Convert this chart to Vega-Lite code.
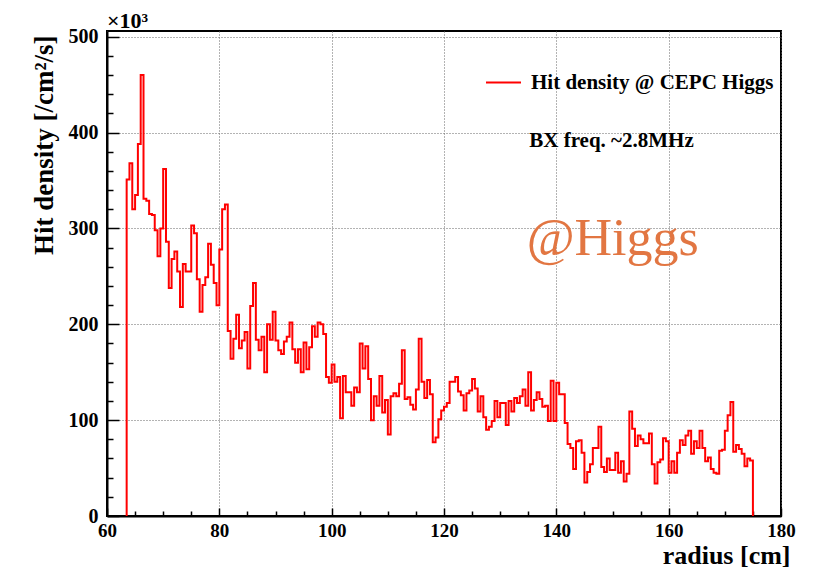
{
"$schema": "https://vega.github.io/schema/vega-lite/v6.json",
"width": 674, "height": 485,
"autosize": {"type": "none"},
"padding": {"left": 107, "top": 31, "right": 45, "bottom": 53},
"background": "white",
"config": {
 "view": {"stroke": "black", "strokeWidth": 2},
 "font": "Liberation Serif",
 "axis": {"labelFont": "Liberation Serif", "labelFontWeight": "bold", "labelFontSize": 20, "labelColor": "black", "titleFont": "Liberation Serif", "titleFontWeight": "bold", "titleFontSize": 27, "titleColor": "black", "domainColor": "black", "domainWidth": 2, "tickColor": "black", "tickWidth": 1.5, "gridColor": "#666666", "gridDash": [1, 2], "gridWidth": 1}
},
"datasets": {"hist": [
{"r":63.5,"h":0},
{"r":63.5,"h":351},{"r":64,"h":368},{"r":64.5,"h":320},{"r":65,"h":335},{"r":65.5,"h":388},{"r":66,"h":460},{"r":66.5,"h":331},{"r":67,"h":329},{"r":67.5,"h":315},{"r":68,"h":314},
{"r":68.5,"h":298},{"r":69,"h":271},{"r":69.5,"h":300},{"r":70,"h":362},{"r":70.5,"h":286},{"r":71,"h":238},{"r":71.5,"h":268},{"r":72,"h":276},{"r":72.5,"h":255},{"r":73,"h":218},
{"r":73.5,"h":263},{"r":74,"h":255},{"r":74.5,"h":255},{"r":75,"h":303},{"r":75.5,"h":295},{"r":76,"h":247},{"r":76.5,"h":213},{"r":77,"h":241},{"r":77.5,"h":249},{"r":78,"h":284},
{"r":78.5,"h":262},{"r":79,"h":243},{"r":79.5,"h":220},{"r":80,"h":278},{"r":80.5,"h":320},{"r":81,"h":325},{"r":81.5,"h":193},{"r":82,"h":164},{"r":82.5,"h":185},{"r":83,"h":210},
{"r":83.5,"h":175},{"r":84,"h":183},{"r":84.5,"h":192},{"r":85,"h":154},{"r":85.5,"h":219},{"r":86,"h":243},{"r":86.5,"h":184},{"r":87,"h":173},{"r":87.5,"h":187},{"r":88,"h":150},
{"r":88.5,"h":200},{"r":89,"h":184},{"r":89.5,"h":213},{"r":90,"h":183},{"r":90.5,"h":173},{"r":91,"h":169},{"r":91.5,"h":182},{"r":92,"h":187},{"r":92.5,"h":202},{"r":93,"h":174},
{"r":93.5,"h":160},{"r":94,"h":174},{"r":94.5,"h":150},{"r":95,"h":181},{"r":95.5,"h":153},{"r":96,"h":176},{"r":96.5,"h":198},{"r":97,"h":187},{"r":97.5,"h":202},{"r":98,"h":200},
{"r":98.5,"h":190},{"r":99,"h":145},{"r":99.5,"h":139},{"r":100,"h":158},{"r":100.5,"h":140},{"r":101,"h":145},{"r":101.5,"h":102},{"r":102,"h":146},{"r":102.5,"h":129},{"r":103,"h":129},
{"r":103.5,"h":115},{"r":104,"h":134},{"r":104.5,"h":129},{"r":105,"h":180},{"r":105.5,"h":154},{"r":106,"h":177},{"r":106.5,"h":143},{"r":107,"h":100},{"r":107.5,"h":125},{"r":108,"h":115},
{"r":108.5,"h":146},{"r":109,"h":108},{"r":109.5,"h":121},{"r":110,"h":85},{"r":110.5,"h":125},{"r":111,"h":128},{"r":111.5,"h":125},{"r":112,"h":138},{"r":112.5,"h":173},{"r":113,"h":122},
{"r":113.5,"h":124},{"r":114,"h":116},{"r":114.5,"h":111},{"r":115,"h":132},{"r":115.5,"h":185},{"r":116,"h":140},{"r":116.5,"h":123},{"r":117,"h":142},{"r":117.5,"h":127},{"r":118,"h":77},
{"r":118.5,"h":82},{"r":119,"h":101},{"r":119.5,"h":110},{"r":120,"h":114},{"r":120.5,"h":118},{"r":121,"h":140},{"r":121.5,"h":140},{"r":122,"h":145},{"r":122.5,"h":130},{"r":123,"h":126},
{"r":123.5,"h":110},{"r":124,"h":128},{"r":124.5,"h":131},{"r":125,"h":143},{"r":125.5,"h":133},{"r":126,"h":109},{"r":126.5,"h":125},{"r":127,"h":103},{"r":127.5,"h":90},{"r":128,"h":93},
{"r":128.5,"h":99},{"r":129,"h":120},{"r":129.5,"h":103},{"r":130,"h":118},{"r":130.5,"h":118},{"r":131,"h":95},{"r":131.5,"h":120},{"r":132,"h":109},{"r":132.5,"h":123},{"r":133,"h":118},
{"r":133.5,"h":125},{"r":134,"h":132},{"r":134.5,"h":115},{"r":135,"h":150},{"r":135.5,"h":110},{"r":136,"h":121},{"r":136.5,"h":129},{"r":137,"h":122},{"r":137.5,"h":114},{"r":138,"h":115},
{"r":138.5,"h":99},{"r":139,"h":141},{"r":139.5,"h":99},{"r":140,"h":139},{"r":140.5,"h":127},{"r":141,"h":127},{"r":141.5,"h":97},{"r":142,"h":75},{"r":142.5,"h":71},{"r":143,"h":49},
{"r":143.5,"h":78},{"r":144,"h":79},{"r":144.5,"h":66},{"r":145,"h":35},{"r":145.5,"h":46},{"r":146,"h":54},{"r":146.5,"h":71},{"r":147,"h":71},{"r":147.5,"h":93},{"r":148,"h":51},
{"r":148.5,"h":46},{"r":149,"h":60},{"r":149.5,"h":48},{"r":150,"h":48},{"r":150.5,"h":66},{"r":151,"h":45},{"r":151.5,"h":57},{"r":152,"h":36},{"r":152.5,"h":44},{"r":153,"h":109},
{"r":153.5,"h":91},{"r":154,"h":73},{"r":154.5,"h":84},{"r":155,"h":80},{"r":155.5,"h":76},{"r":156,"h":76},{"r":156.5,"h":86},{"r":157,"h":54},{"r":157.5,"h":34},{"r":158,"h":56},
{"r":158.5,"h":59},{"r":159,"h":81},{"r":159.5,"h":78},{"r":160,"h":45},{"r":160.5,"h":57},{"r":161,"h":45},{"r":161.5,"h":66},{"r":162,"h":79},{"r":162.5,"h":74},{"r":163,"h":84},
{"r":163.5,"h":89},{"r":164,"h":65},{"r":164.5,"h":78},{"r":165,"h":71},{"r":165.5,"h":89},{"r":166,"h":71},{"r":166.5,"h":57},{"r":167,"h":61},{"r":167.5,"h":49},{"r":168,"h":45},
{"r":168.5,"h":44},{"r":169,"h":68},{"r":169.5,"h":69},{"r":170,"h":89},{"r":170.5,"h":105},{"r":171,"h":119},{"r":171.5,"h":67},{"r":172,"h":74},{"r":172.5,"h":70},{"r":173,"h":65},
{"r":173.5,"h":52},{"r":174,"h":60},{"r":174.5,"h":58},
{"r":175,"h":0}
],
"notes": [{"label": "BX freq. ~2.8MHz"}]},
"resolve": {"axis": {"x": "independent", "y": "independent"}},
"layer": [
 {
  "data": {"name": "hist"},
  "mark": {"type": "line", "interpolate": "step-after", "strokeWidth": 2},
  "encoding": {
   "x": {"field": "r", "type": "quantitative", "scale": {"domain": [60, 180], "nice": false, "zero": false},
         "axis": {"orient": "bottom", "values": [60, 80, 100, 120, 140, 160, 180], "tickSize": -8, "labelPadding": 13, "labelFontSize": 19, "grid": true, "labelFlush": false, "labelOverlap": false, "title": "radius [cm]", "titleFontSize": 26, "titleAnchor": "end", "titleAlign": "right", "titleBaseline": "alphabetic", "titleX": 683, "titleY": 47}},
   "y": {"field": "h", "type": "quantitative", "scale": {"domain": [0, 506], "nice": false},
         "axis": {"orient": "left", "values": [0, 100, 200, 300, 400, 500], "tickSize": -12, "labelPadding": 21, "grid": true, "labelFlush": false, "labelOverlap": false, "title": "Hit density [/cm²/s]", "titleAnchor": "end", "titleAlign": "right", "titleBaseline": "middle", "titleAngle": -90, "titleX": -63, "titleY": 4}},
   "order": {"value": null},
   "color": {"datum": "Hit density @ CEPC Higgs", "scale": {"range": ["#ff0000"]},
             "legend": {"orient": "none", "legendX": 378, "legendY": 33, "title": null, "symbolType": "stroke", "symbolSize": 1225, "symbolStrokeWidth": 2, "labelFont": "Liberation Serif", "labelFontWeight": "bold", "labelFontSize": 21, "labelColor": "black", "labelOffset": 9, "padding": 0, "labelLimit": 400}}
  }
 },
 {
  "data": {"name": "hist"},
  "mark": {"type": "point", "opacity": 0},
  "encoding": {
   "x": {"field": "r", "type": "quantitative", "axis": {"orient": "bottom", "values": [65, 70, 75, 85, 90, 95, 105, 110, 115, 125, 130, 135, 145, 150, 155, 165, 170, 175], "tickSize": -5, "labels": false, "grid": false, "domain": false, "title": null}},
   "y": {"field": "h", "type": "quantitative", "axis": {"orient": "left", "values": [20, 40, 60, 80, 120, 140, 160, 180, 220, 240, 260, 280, 320, 340, 360, 380, 420, 440, 460, 480], "tickSize": -6, "labels": false, "grid": false, "domain": false, "title": null}}
  }
 },
 {
  "data": {"name": "notes"},
  "mark": {"type": "text", "align": "left", "baseline": "alphabetic", "font": "Liberation Serif", "fontWeight": "bold", "fontSize": 21, "color": "black"},
  "encoding": {"x": {"datum": 135.18, "type": "quantitative", "axis": null}, "y": {"datum": 384.7, "type": "quantitative", "axis": null}, "text": {"field": "label"}}
 },
 {
  "data": {"values": [{"label": "@Higgs"}]},
  "mark": {"type": "text", "align": "left", "baseline": "alphabetic", "font": "Liberation Serif", "fontWeight": "normal", "fontSize": 52, "color": "#E27642"},
  "encoding": {"x": {"datum": 134.72, "type": "quantitative", "axis": null}, "y": {"datum": 272.3, "type": "quantitative", "axis": null}, "text": {"field": "label"}}
 },
 {
  "data": {"values": [{"label": "×10³"}]},
  "mark": {"type": "text", "align": "left", "baseline": "alphabetic", "font": "Liberation Serif", "fontWeight": "bold", "fontSize": 22, "color": "black"},
  "encoding": {"x": {"datum": 60, "type": "quantitative", "axis": null}, "y": {"datum": 509, "type": "quantitative", "axis": null}, "text": {"field": "label"}}
 }
]
}
